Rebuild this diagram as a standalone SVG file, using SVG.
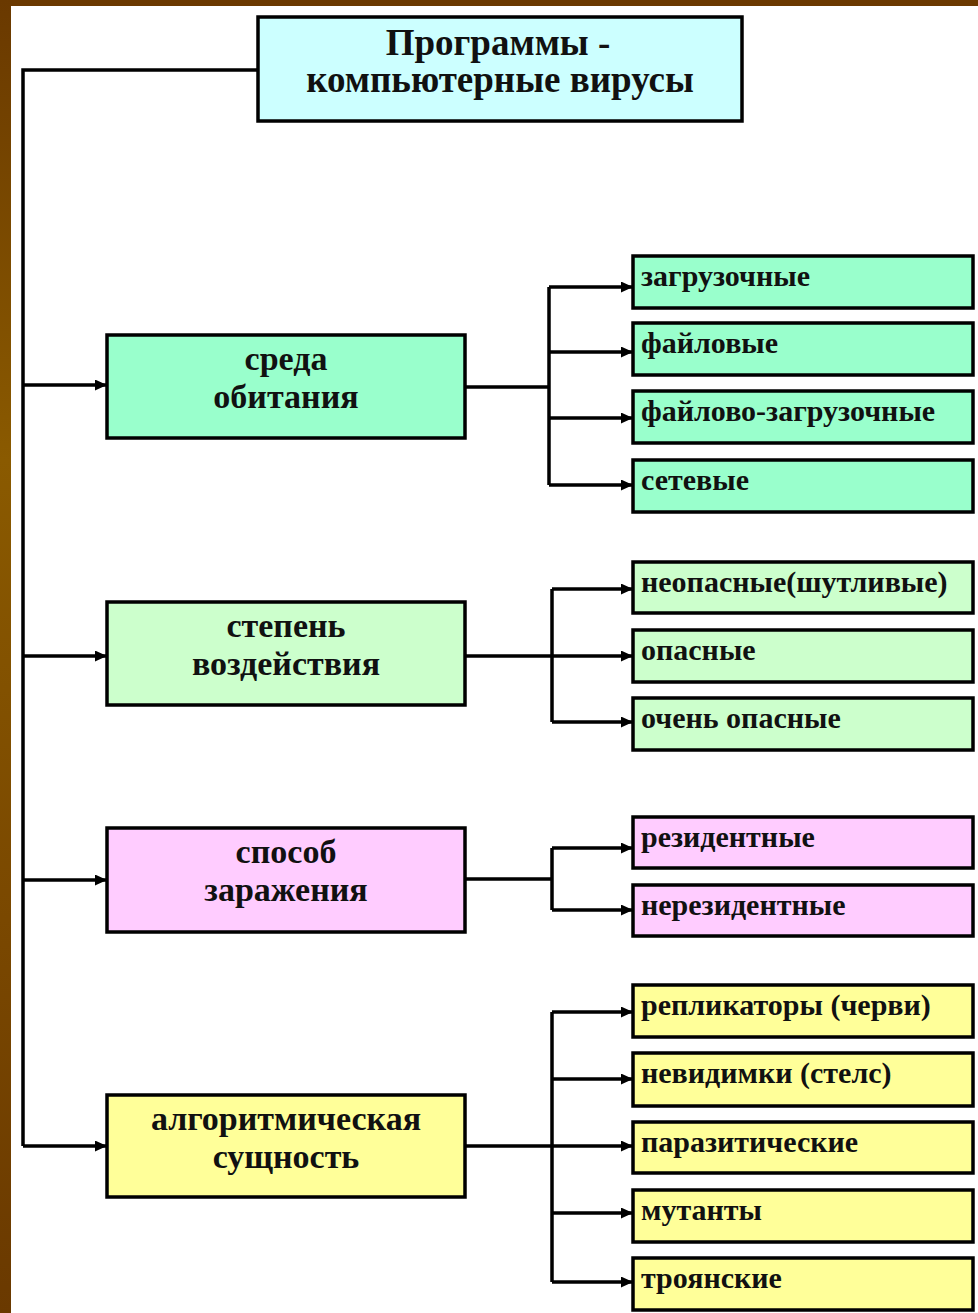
<svg xmlns="http://www.w3.org/2000/svg" width="978" height="1313" viewBox="0 0 978 1313">
<style>
.box{stroke:#000;stroke-width:3.5}
.t{font-family:"Liberation Serif","Times New Roman",serif;font-weight:bold;fill:#111}
.title{font-size:37px;text-anchor:middle}
.cat{font-size:34px;text-anchor:middle}
.leaf{font-size:30px}
.ln{fill:none;stroke:#000;stroke-width:3.5}
.ar{fill:none;stroke:#000;stroke-width:3.5;marker-end:url(#ah)}
</style>
<defs>
<linearGradient id="brown" x1="0" y1="0" x2="0" y2="1">
<stop offset="0" stop-color="#6a3900"/>
<stop offset="0.35" stop-color="#8a5a00"/>
<stop offset="0.7" stop-color="#7a4800"/>
<stop offset="1" stop-color="#6a3900"/>
</linearGradient>
<marker id="ah" markerWidth="12" markerHeight="11" refX="11" refY="5.5" orient="auto" markerUnits="userSpaceOnUse">
<path d="M0,0 L12,5.5 L0,11 Z" fill="#000"/>
</marker>
</defs>
<rect x="0" y="0" width="978" height="1313" fill="#fff"/>
<rect x="0" y="0" width="978" height="6" fill="#6b3900"/>
<rect x="0" y="0" width="11" height="1313" fill="url(#brown)"/>

<g id="connectors">
<path class="ln" d="M257,70 H23 V1146"/>
<path class="ar" d="M23,385 H106"/>
<path class="ar" d="M23,656 H106"/>
<path class="ar" d="M23,880 H106"/>
<path class="ar" d="M23,1146 H106"/>
<path class="ln" d="M465,387 H549 M549,287 V485"/>
<path class="ar" d="M549,287 H632"/>
<path class="ar" d="M549,352 H632"/>
<path class="ar" d="M549,418 H632"/>
<path class="ar" d="M549,485 H632"/>
<path class="ln" d="M465,656 H552 M552,589 V722"/>
<path class="ar" d="M552,589 H632"/>
<path class="ar" d="M552,656 H632"/>
<path class="ar" d="M552,722 H632"/>
<path class="ln" d="M465,879 H552 M552,848 V910"/>
<path class="ar" d="M552,848 H632"/>
<path class="ar" d="M552,910 H632"/>
<path class="ln" d="M465,1146 H552 M552,1012 V1282"/>
<path class="ar" d="M552,1012 H632"/>
<path class="ar" d="M552,1079 H632"/>
<path class="ar" d="M552,1146 H632"/>
<path class="ar" d="M552,1213 H632"/>
<path class="ar" d="M552,1282 H632"/>
</g>

<g id="root">
<rect class="box" x="258" y="17" width="484" height="104" fill="#ccffff"/>
<text class="t title" x="498" y="55">Программы -</text>
<text class="t title" x="500" y="92">компьютерные вирусы</text>
</g>

<g id="cat-sreda">
<rect class="box" x="107" y="335" width="358" height="103" fill="#99ffcc"/>
<text class="t cat" x="286" y="370">среда</text>
<text class="t cat" x="286" y="408">обитания</text>
</g>
<g id="cat-stepen">
<rect class="box" x="107" y="602" width="358" height="103" fill="#ccffcc"/>
<text class="t cat" x="286" y="637">степень</text>
<text class="t cat" x="286" y="675">воздействия</text>
</g>
<g id="cat-sposob">
<rect class="box" x="107" y="828" width="358" height="104" fill="#ffccff"/>
<text class="t cat" x="286" y="863">способ</text>
<text class="t cat" x="286" y="901">заражения</text>
</g>
<g id="cat-algo">
<rect class="box" x="107" y="1095" width="358" height="102" fill="#ffff99"/>
<text class="t cat" x="286" y="1130">алгоритмическая</text>
<text class="t cat" x="286" y="1168">сущность</text>
</g>

<g id="leaf-zagr"><rect class="box" x="633" y="256" width="340" height="52" fill="#99ffcc"/><text class="t leaf" x="641" y="286">загрузочные</text></g>
<g id="leaf-fail"><rect class="box" x="633" y="323" width="340" height="52" fill="#99ffcc"/><text class="t leaf" x="641" y="353">файловые</text></g>
<g id="leaf-failzagr"><rect class="box" x="633" y="391" width="340" height="52" fill="#99ffcc"/><text class="t leaf" x="641" y="421">файлово-загрузочные</text></g>
<g id="leaf-set"><rect class="box" x="633" y="460" width="340" height="52" fill="#99ffcc"/><text class="t leaf" x="641" y="490">сетевые</text></g>

<g id="leaf-neop"><rect class="box" x="633" y="562" width="340" height="51" fill="#ccffcc"/><text class="t leaf" x="641" y="592">неопасные(шутливые)</text></g>
<g id="leaf-op"><rect class="box" x="633" y="630" width="340" height="52" fill="#ccffcc"/><text class="t leaf" x="641" y="660">опасные</text></g>
<g id="leaf-ochop"><rect class="box" x="633" y="698" width="340" height="52" fill="#ccffcc"/><text class="t leaf" x="641" y="728">очень опасные</text></g>

<g id="leaf-rez"><rect class="box" x="633" y="817" width="340" height="51" fill="#ffccff"/><text class="t leaf" x="641" y="847">резидентные</text></g>
<g id="leaf-nerez"><rect class="box" x="633" y="885" width="340" height="51" fill="#ffccff"/><text class="t leaf" x="641" y="915">нерезидентные</text></g>

<g id="leaf-repl"><rect class="box" x="633" y="985" width="340" height="52" fill="#ffff99"/><text class="t leaf" x="641" y="1015">репликаторы (черви)</text></g>
<g id="leaf-nevid"><rect class="box" x="633" y="1053" width="340" height="53" fill="#ffff99"/><text class="t leaf" x="641" y="1083">невидимки (стелс)</text></g>
<g id="leaf-paraz"><rect class="box" x="633" y="1122" width="340" height="51" fill="#ffff99"/><text class="t leaf" x="641" y="1152">паразитические</text></g>
<g id="leaf-mut"><rect class="box" x="633" y="1190" width="340" height="52" fill="#ffff99"/><text class="t leaf" x="641" y="1220">мутанты</text></g>
<g id="leaf-troy"><rect class="box" x="633" y="1258" width="340" height="52" fill="#ffff99"/><text class="t leaf" x="641" y="1288">троянские</text></g>
</svg>
